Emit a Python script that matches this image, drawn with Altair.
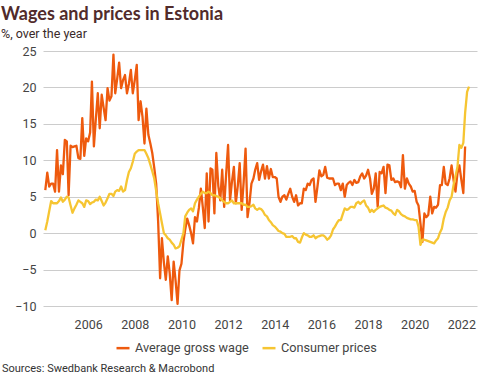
import altair as alt
import pandas as pd

# Monthly, % over the year, starting March 2004
wage_start = "2004-03-01"
wage = [
    5.9, 8.3, 6.4, 6.8, 6.8, 5.7, 11.4, 5.7, 9.3, 8.1,
    12.8, 12.6, 5.2, 12.0, 11.8, 11.9, 12.0, 10.3, 10.2, 15.8, 10.6, 13.0,
    12.6, 13.8, 20.8, 11.9, 15.6, 19.2, 14.4, 19.0, 17.2, 15.5, 19.9, 18.2,
    18.8, 24.5, 19.2, 21.2, 23.4, 19.9, 21.0, 21.7, 19.2, 20.5, 22.4, 19.2,
    21.0, 23.1, 15.5, 18.1, 16.0, 12.3, 17.1, 13.5, 12.3, 11.0, 9.0, 6.8,
    1.6, -6.2, -0.7, -4.0, -6.4, -3.2, -5.5, -9.2, -3.9, -6.5, -9.7, -5.1,
    -4.2, -1.2, 0.5, 2.0, 1.1, 0.0, -1.4, 2.2, 1.6, 3.5, 6.1, 3.6,
    0.7, 8.2, 1.6, 8.9, 8.7, 2.7, 11.0, 6.5, 4.5, 8.7, 3.6, 8.0,
    12.1, 4.5, 7.0, 9.1, 4.1, 6.5, 9.6, 3.2, 7.0, 11.6, 2.2, 4.1,
    6.8, 7.5, 8.7, 9.6, 7.3, 8.5, 9.4, 7.5, 9.2, 7.5, 8.8, 7.7,
    7.7, 7.5, 5.0, 4.3, 5.0, 5.2, 4.6, 5.4, 6.1, 5.0, 4.3, 5.2,
    3.8, 4.1, 4.1, 6.1, 5.9, 6.8, 6.6, 7.3, 7.5, 4.3, 6.4, 8.6,
    7.8, 8.0, 9.1, 7.6, 7.5, 7.5, 7.5, 6.6, 6.8, 6.8, 5.9, 6.8,
    5.0, 6.6, 6.9, 7.1, 6.6, 7.3, 6.9, 7.0, 7.8, 8.2, 7.5, 7.9,
    8.7, 7.5, 5.4, 6.1, 8.2, 3.6, 8.4, 8.2, 9.1, 5.5, 9.4, 9.3,
    7.3, 7.5, 7.0, 7.1, 7.0, 6.3, 10.7, 6.1, 7.5, 6.8, 6.4, 5.7,
    5.8, 4.3, 3.8, 1.3, -1.2, 2.7, 2.2, 2.5, 5.0, 2.7, 3.6, 3.5,
    3.9, 6.6, 6.6, 9.1, 6.8, 6.6, 7.5, 9.3, 7.3, 5.7, 8.2, 9.3,
    7.3, 5.5, 11.9,
]

cpi_start = "2004-03-01"
cpi = [
    0.4, 1.6, 3.0, 4.4, 4.1, 4.1, 4.1, 4.4, 4.9, 4.3,
    4.6, 5.0, 4.9, 3.8, 2.8, 3.4, 3.9, 4.5, 4.3, 4.1, 3.6, 4.5,
    4.4, 4.0, 4.2, 4.3, 4.6, 4.5, 5.0, 4.4, 3.8, 4.2, 4.8, 5.4,
    5.4, 5.1, 5.7, 5.9, 5.8, 6.4, 5.7, 5.9, 7.3, 8.4, 8.9, 9.8,
    10.9, 11.2, 11.4, 11.4, 11.4, 11.4, 10.9, 10.3, 9.4, 8.5, 7.5, 5.8,
    4.1, 2.7, 1.4, 0.0, -0.3, -0.7, -0.9, -1.3, -1.6, -2.1, -2.0, -1.8,
    -0.9, 0.0, 2.3, 2.8, 3.2, 3.4, 3.0, 4.1, 4.6, 5.0, 5.4, 5.7,
    5.5, 5.5, 5.7, 5.5, 5.2, 5.2, 5.1, 5.0, 4.8, 4.5, 4.3, 4.1,
    4.1, 4.3, 4.5, 4.1, 4.1, 4.1, 4.1, 4.1, 3.9, 3.9, 3.6, 3.6,
    3.7, 3.9, 3.4, 3.2, 3.4, 3.3, 3.0, 2.5, 2.3, 1.8, 1.5, 1.1,
    0.9, 0.6, 0.3, 0.2, 0.0, -0.1, -0.5, -0.5, -0.5, -0.4, -0.7, -0.7,
    -1.2, -1.3, -0.6, 0.0, -0.2, -0.3, -0.5, -0.5, -0.3, -0.7, -0.5, -0.4,
    -0.3, -0.3, -0.5, -0.9, -0.7, -0.3, 0.5, 0.9, 1.4, 1.8, 1.8, 2.6,
    3.4, 3.2, 3.3, 3.6, 3.6, 3.5, 4.1, 4.3, 4.0, 4.3, 4.5, 3.8,
    3.5, 2.9, 3.2, 2.9, 3.2, 3.4, 3.6, 3.7, 3.8, 3.5, 3.4, 3.2,
    3.1, 2.7, 2.5, 3.2, 3.0, 2.6, 2.4, 2.3, 2.1, 2.0, 1.9, 1.9,
    1.8, 1.8, 0.9, -1.6, -0.9, -0.9, -1.0, -1.1, -1.2, -1.3, -1.4, -1.0,
    -0.7, 0.1, 0.6, 2.0, 2.9, 3.5, 4.5, 5.0, 6.6, 7.8, 9.1, 12.1,
    11.7, 12.4, 16.5, 19.4, 20.1,
]

series_names = ["Average gross wage", "Consumer prices"]
series_colors = ["#ee5a0e", "#f6c532"]
year_ticks = [2006, 2008, 2010, 2012, 2014, 2016, 2018, 2020, 2022]
y_ticks = [-10, -5, 0, 5, 10, 15, 20, 25]

df = pd.concat([
    pd.DataFrame({"date": pd.date_range(wage_start, periods=len(wage), freq="MS"),
                  "value": wage, "series": series_names[0]}),
    pd.DataFrame({"date": pd.date_range(cpi_start, periods=len(cpi), freq="MS"),
                  "value": cpi, "series": series_names[1]}),
])
df["date"] = df["date"].dt.strftime("%Y-%m-%dT%H:%M:%S")

font = "Roboto"

lines = alt.Chart(df).mark_line(strokeWidth=2.3, strokeJoin="round").encode(
    x=alt.X("date:T",
            scale=alt.Scale(domain=[alt.DateTime(year=2004, month=1, date=25),
                                    alt.DateTime(year=2022, month=9, date=3)]),
            axis=alt.Axis(title=None, grid=False, domain=False, ticks=False,
                          values=[alt.DateTime(year=y, month=1, date=1) for y in year_ticks],
                          format="%Y", labelFontSize=12.5, labelColor="#444444",
                          labelPadding=12, labelFont=font)),
    y=alt.Y("value:Q",
            scale=alt.Scale(domain=[-10, 25], nice=False, zero=False),
            axis=alt.Axis(title=None, values=y_ticks, domain=False, ticks=False,
                          gridColor="#cccccc", gridWidth=1, labelFontSize=12.5,
                          labelColor="#444444", labelPadding=7, labelFont=font)),
    color=alt.Color("series:N",
                    scale=alt.Scale(domain=series_names, range=series_colors),
                    legend=alt.Legend(title=None, orient="none", legendX=72, legendY=289,
                                      direction="horizontal", symbolType="stroke",
                                      symbolSize=169, symbolStrokeWidth=2.5,
                                      labelFontSize=12.7, labelColor="#444444",
                                      labelFont=font, labelOffset=4, columnPadding=8,
                                      labelLimit=300)),
    order=alt.Order("date:T"),
)

source = alt.Chart(pd.DataFrame({"t": ["Sources: Swedbank Research & Macrobond"]})).mark_text(
    align="left", baseline="alphabetic", fontSize=11, color="#333333", font=font
).encode(x=alt.value(-41), y=alt.value(321), text="t:N")

chart = alt.layer(lines, source).properties(
    width=434, height=255,
    autosize=alt.AutoSizeParams(type="none"),
    padding={"left": 43, "top": 51, "right": 14, "bottom": 71},
    title=alt.TitleParams(text="Wages and prices in Estonia", subtitle="%, over the year",
                          anchor="start", frame="group", dx=-42, offset=5,
                          font="Lato", fontSize=18, fontWeight="bold", color="#512b2b",
                          subtitleFont=font, subtitleFontSize=12.5, subtitleColor="#3a2a2a",
                          subtitlePadding=4),
).configure_view(stroke=None)

chart.save("out.html", embed_options={"renderer": "svg", "actions": False})
